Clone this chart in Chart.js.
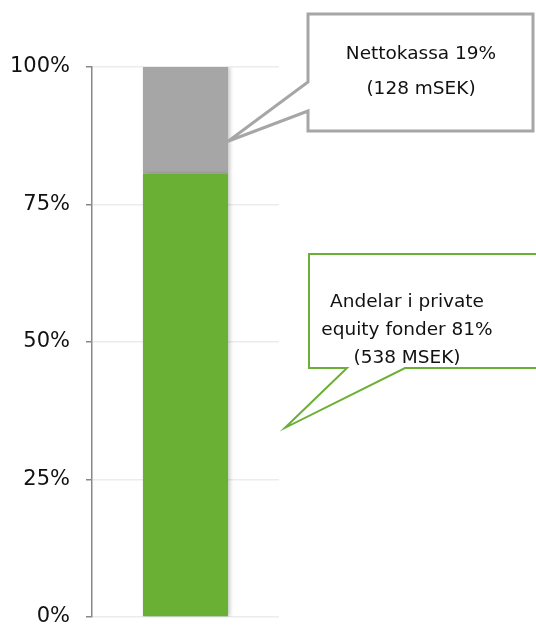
<!DOCTYPE html>
<html>
<head>
<meta charset="utf-8">
<script src="https://cdn.jsdelivr.net/npm/chart.js@4.4.1/dist/chart.umd.min.js"></script>
<style>
    html, body { margin: 0; padding: 0; background: #fff; }
    #wrap { width: 536px; height: 626px; position: relative; }
</style>
</head>
<body>
<div id="wrap"><canvas id="chart" width="536" height="626"></canvas></div>
<script>
// Values (share of total, %)
const categories = [''];
const privateEquity = [80.6];
const netCash = [19.4];
const yTicks = [0, 25, 50, 75, 100];

// Callout texts
const netCashLabel = ['Nettokassa 19%', '(128 mSEK)'];
const peLabel = ['Andelar i private', 'equity fonder 81%', '(538 MSEK)'];

const FONT = "'DejaVu Sans', Verdana, sans-serif";

// Draws the two speech-bubble callouts pointing at the bar
const calloutPlugin = {
    id: 'callouts',
    afterDraw(chart) {
        const ctx = chart.ctx;
        const y = chart.scales.y;
        const bar = chart.getDatasetMeta(1).data[0];
        const barRight = bar.x + bar.width / 2;

        ctx.save();
        ctx.lineJoin = 'miter';

        // gray callout (net cash)
        const tipA = { x: barRight, y: y.getPixelForValue(86.5) };
        ctx.beginPath();
        ctx.moveTo(308, 14);
        ctx.lineTo(533, 14);
        ctx.lineTo(533, 131);
        ctx.lineTo(308, 131);
        ctx.lineTo(308, 111);
        ctx.lineTo(tipA.x, tipA.y);
        ctx.lineTo(308, 82);
        ctx.closePath();
        ctx.fillStyle = '#fff';
        ctx.fill();
        ctx.strokeStyle = '#a6a6a6';
        ctx.lineWidth = 3;
        ctx.stroke();

        // green callout (private equity)
        const tipB = { x: barRight + 57, y: y.getPixelForValue(34.4) };
        ctx.beginPath();
        ctx.moveTo(309, 254);
        ctx.lineTo(540, 254);
        ctx.lineTo(540, 368);
        ctx.lineTo(405, 368);
        ctx.lineTo(tipB.x, tipB.y);
        ctx.lineTo(347, 368);
        ctx.lineTo(309, 368);
        ctx.closePath();
        ctx.fillStyle = '#fff';
        ctx.fill();
        ctx.strokeStyle = '#6ab034';
        ctx.lineWidth = 2;
        ctx.stroke();

        ctx.fillStyle = '#111';
        ctx.font = '18.5px ' + FONT;
        ctx.textAlign = 'center';
        ctx.textBaseline = 'middle';
        netCashLabel.forEach((t, i) => ctx.fillText(t, 421, 54 + i * 35));
        peLabel.forEach((t, i) => ctx.fillText(t, 407, 302 + i * 28));
        ctx.restore();
    }
};

// soft shadow on the right side of the bar
const shadowPlugin = {
    id: 'barShadow',
    beforeDatasetsDraw(chart) {
        const ctx = chart.ctx;
        ctx.save();
        ctx.shadowColor = 'rgba(0,0,0,0.22)';
        ctx.shadowBlur = 4;
        ctx.shadowOffsetX = 2;
    },
    afterDatasetsDraw(chart) {
        chart.ctx.restore();
    }
};

new Chart(document.getElementById('chart'), {
    type: 'bar',
    data: {
        labels: categories,
        datasets: [{
            label: 'Andelar i private equity fonder',
            data: privateEquity,
            backgroundColor: '#6ab034',
            barPercentage: 0.455,
            categoryPercentage: 1
        }, {
            label: 'Nettokassa',
            data: netCash,
            backgroundColor: '#a6a6a6',
            barPercentage: 0.455,
            categoryPercentage: 1
        }]
    },
    options: {
        responsive: false,
        animation: false,
        layout: { padding: { left: 0, top: 67, right: 257, bottom: 9 } },
        plugins: {
            legend: { display: false },
            tooltip: { enabled: false }
        },
        scales: {
            x: {
                stacked: true,
                display: false
            },
            y: {
                stacked: true,
                min: 0,
                max: 100,
                afterBuildTicks: (scale) => {
                    scale.ticks = yTicks.map(v => ({ value: v }));
                },
                afterFit: (scale) => {
                    scale.width = 92;
                    // tick padding otherwise adds to the vertical overflow
                    scale.paddingTop = 0;
                    scale.paddingBottom = 0;
                },
                ticks: {
                    callback: v => v + '%',
                    color: '#111',
                    font: { family: FONT, size: 21 },
                    padding: 16
                },
                grid: {
                    color: '#ececec',
                    tickColor: '#888',
                    tickLength: 6,
                    lineWidth: 1.5
                },
                border: { color: '#888', width: 1.5 }
            }
        }
    },
    plugins: [shadowPlugin, calloutPlugin]
});
</script>
</body>
</html>
